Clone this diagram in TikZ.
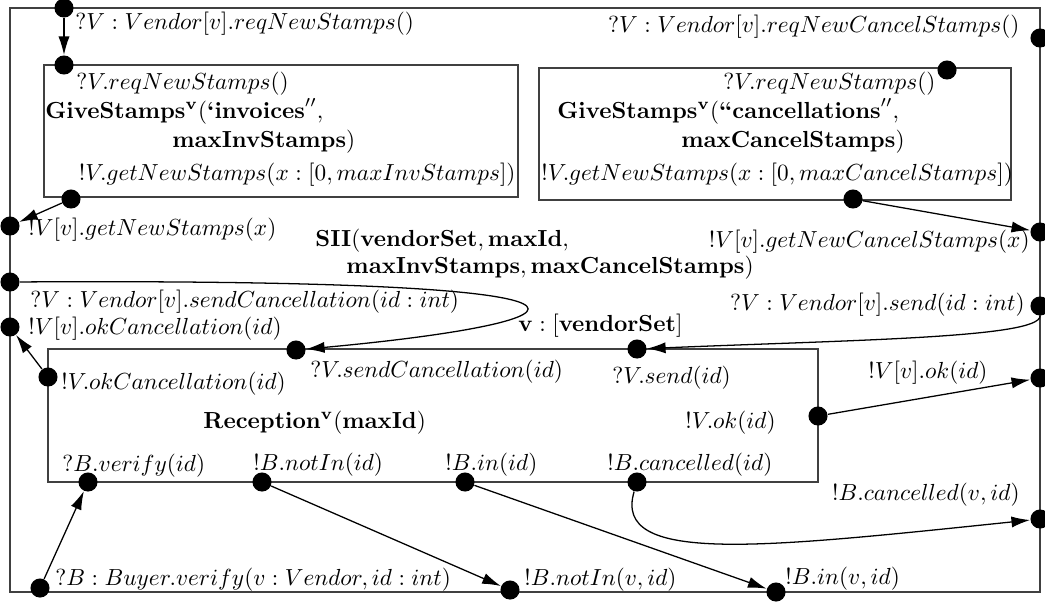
\documentclass[tikz,border=0pt]{standalone}
\usetikzlibrary{arrows.meta}
\begin{document}
\begin{tikzpicture}[x=0.43pt,y=-0.43pt,
  dot/.style={circle,fill=black,inner sep=0pt,minimum size=8.2pt},
  lbl/.style={inner sep=0pt,anchor=base west},
  lble/.style={inner sep=0pt,anchor=base east},
  box/.style={draw=black!75,line width=0.55pt},
  conn/.style={line width=0.55pt,-{Latex[length=8pt,width=4.8pt]}}]
\useasboundingbox (0,0) rectangle (1045,603);
% outer frame and boxes
\draw[box] (10,8) rectangle (1040,592);
\draw[box] (44,65) rectangle (518,197);
\draw[box] (539,68) rectangle (1011,200);
\draw[box] (48,349) rectangle (818,482);
% dots on outer frame
\node[dot] (dTop) at (64,8) {};
\node[dot] (dL1) at (10,226) {};
\node[dot] (dL2) at (10,282) {};
\node[dot] (dL3) at (10,327) {};
\node[dot] (dBl) at (40,588) {};
\node[dot] (dBn) at (510,590) {};
\node[dot] (dBi) at (776,592) {};
\node[dot] (dR1) at (1040,38) {};
\node[dot] (dR2) at (1040,232) {};
\node[dot] (dR3) at (1040,306) {};
\node[dot] (dR4) at (1040,378) {};
\node[dot] (dR5) at (1040,519) {};
% dots on boxes
\node[dot] (b1t) at (64,65) {};
\node[dot] (b1b) at (71,199) {};
\node[dot] (b2t) at (947,70) {};
\node[dot] (b2b) at (853,199) {};
\node[dot] (b3l) at (48,377) {};
\node[dot] (b3sc) at (296,350) {};
\node[dot] (b3s) at (637,349) {};
\node[dot] (b3r) at (818,416) {};
\node[dot] (b3v) at (88,482) {};
\node[dot] (b3n) at (262,482) {};
\node[dot] (b3i) at (465,482) {};
\node[dot] (b3c) at (637,482) {};
% labels
\node[lbl] (t1) at (75,29) {$?V : Vendor[v].reqNewStamps()$};
\node[lbl] (t2) at (76,89) {$?V.reqNewStamps()$};
\node[lbl] (t3) at (45,118) {$\mathbf{GiveStamps^{v}}(\textbf{`invoices}'',$};
\node[lbl] (t4) at (172,147) {$\mathbf{maxInvStamps})$};
\node[lble] (t5) at (516,180) {$!V.getNewStamps(x : [0, maxInvStamps])$};
\node[lbl] (t6) at (28,235) {$!V[v].getNewStamps(x)$};
\node[lble] (t7) at (1020,32) {$?V : Vendor[v].reqNewCancelStamps()$};
\node[lble] (t8) at (936,89) {$?V.reqNewStamps()$};
\node[lbl] (t9) at (557,118) {$\mathbf{GiveStamps^{v}}(\textbf{``cancellations}'',$};
\node[lble] (t10) at (905,147) {$\mathbf{maxCancelStamps})$};
\node[lbl] (t11) at (541,180) {$!V.getNewStamps(x : [0, maxCancelStamps])$};
\node[lble] (t12) at (1030,247) {$!V[v].getNewCancelStamps(x)$};
\node[lbl] (t13) at (315,246) {$\mathbf{SII}(\mathbf{vendorSet}, \mathbf{maxId},$};
\node[lbl] (t14) at (346,273) {$\mathbf{maxInvStamps}, \mathbf{maxCancelStamps})$};
\node[lbl] (t15) at (30,307) {$?V : Vendor[v].sendCancellation(id : int)$};
\node[lbl] (t16) at (28,334) {$!V[v].okCancellation(id)$};
\node[lble] (t17) at (1025,310) {$?V : Vendor[v].send(id : int)$};
\node[lbl] (t18) at (518,331) {$\mathbf{v} : [\mathbf{vendorSet}]$};
\node[lbl] (t19) at (61,389) {$!V.okCancellation(id)$};
\node[lbl] (t20) at (310,377) {$?V.sendCancellation(id)$};
\node[lbl] (t21) at (612,383) {$?V.send(id)$};
\node[lbl] (t22) at (868,378) {$!V[v].ok(id)$};
\node[lbl] (t23) at (203,428) {$\mathbf{Reception^{v}}(\mathbf{maxId})$};
\node[lble] (t24) at (776,428) {$!V.ok(id)$};
\node[lbl] (t25) at (62,471) {$?B.verify(id)$};
\node[lbl] (t26) at (253,470) {$!B.notIn(id)$};
\node[lbl] (t27) at (445,470) {$!B.in(id)$};
\node[lbl] (t28) at (607,470) {$!B.cancelled(id)$};
\node[lble] (t29) at (1020,500) {$!B.cancelled(v,id)$};
\node[lbl] (t30) at (55,585) {$?B : Buyer.verify(v : Vendor, id : int)$};
\node[lbl] (t31) at (524,585) {$!B.notIn(v,id)$};
\node[lbl] (t32) at (785,584) {$!B.in(v,id)$};
% connectors
\draw[conn] (dTop) -- (b1t);
\draw[conn] (b1b) -- (dL1);
\draw[conn] (b2b) -- (dR2);
\draw[conn] (dL2) .. controls (680,278) and (600,322) .. (b3sc);
\draw[conn] (dR3) .. controls (1040,338) and (850,340) .. (b3s);
\draw[conn] (b3r) -- (dR4);
\draw[conn] (b3l) -- (dL3);
\draw[conn] (dBl) -- (b3v);
\draw[conn] (b3n) -- (dBn);
\draw[conn] (b3i) -- (dBi);
\draw[conn] (b3c) .. controls (612,565) and (760,548) .. (dR5);
\end{tikzpicture}
\end{document}
